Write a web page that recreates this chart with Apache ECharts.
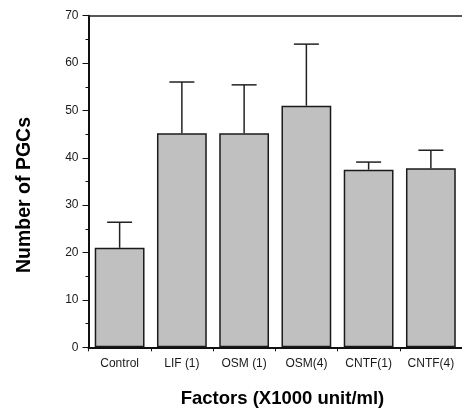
<!DOCTYPE html>
<html>
<head>
<meta charset="utf-8">
<script src="https://cdn.jsdelivr.net/npm/echarts@6/dist/echarts.min.js"></script>
<style>html,body{margin:0;padding:0;background:#fff;}#c{width:462px;height:412px;}</style>
</head>
<body>
<div id="c"></div>
<script>
var categories = ['Control', 'LIF (1)', 'OSM (1)', 'OSM(4)', 'CNTF(1)', 'CNTF(4)'];
var means = [21.0, 45.2, 45.2, 51.0, 37.5, 37.8];
var errorTops = [26.4, 56.0, 55.4, 64.0, 39.1, 41.6];
var yTicks = [0, 10, 20, 30, 40, 50, 60, 70];

var chart = echarts.init(document.getElementById('c'), null, {renderer: 'canvas'});
var font = 'Liberation Sans, Arial, Helvetica, sans-serif';

var errData = categories.map(function (c, i) { return [i, means[i], errorTops[i]]; });

chart.setOption({
  animation: false,
  backgroundColor: '#fff',
  grid: {left: 88.5, top: 15.7, width: 375, height: 331.6, containLabel: false},
  xAxis: [{
    type: 'category',
    data: categories,
    position: 'bottom',
    axisLine: {show: true, lineStyle: {color: '#111', width: 2}},
    axisTick: {show: true, inside: false, length: 4, alignWithLabel: false, lineStyle: {color: '#111', width: 1}},
    axisLabel: {color: '#1a1a1a', fontSize: 12, fontFamily: font, margin: 10, interval: 0},
    splitLine: {show: false}
  }, {
    type: 'category',
    data: categories,
    position: 'top',
    axisLine: {show: true, lineStyle: {color: '#222', width: 1.5}},
    axisTick: {show: false},
    axisLabel: {show: false}
  }],
  yAxis: {
    type: 'value',
    min: yTicks[0],
    max: yTicks[yTicks.length - 1],
    interval: 10,
    axisLine: {show: true, onZero: false, lineStyle: {color: '#111', width: 2}},
    axisTick: {show: true, inside: false, length: 6, lineStyle: {color: '#111', width: 1}},
    minorTick: {show: true, splitNumber: 2, length: 3, lineStyle: {color: '#111', width: 1}},
    axisLabel: {color: '#1a1a1a', fontSize: 12, fontFamily: font, margin: 10},
    splitLine: {show: false}
  },
  graphic: [{
    type: 'text',
    x: 25, y: 195,
    rotation: Math.PI / 2,
    style: {text: 'Number of PGCs', fontSize: 19.5, fontWeight: 'bold', fontFamily: font, fill: '#000', align: 'center', verticalAlign: 'middle'}
  }, {
    type: 'text',
    x: 282.5, y: 399,
    style: {text: 'Factors (X1000 unit/ml)', fontSize: 18.5, fontWeight: 'bold', fontFamily: font, fill: '#000', align: 'center', verticalAlign: 'middle'}
  }],
  series: [{
    type: 'bar',
    data: means,
    barWidth: '80%',
    itemStyle: {color: '#c0c0c0', borderColor: '#1a1a1a', borderWidth: 1.5},
    z: 2
  }, {
    type: 'custom',
    data: errData,
    z: 3,
    renderItem: function (params, api) {
      var i = api.value(0);
      var base = api.coord([i, api.value(1)]);
      var top = api.coord([i, api.value(2)]);
      var half = 12.5;
      var style = {stroke: '#222', lineWidth: 1.5};
      return {
        type: 'group',
        children: [
          {type: 'line', shape: {x1: base[0], y1: base[1], x2: top[0], y2: top[1]}, style: style},
          {type: 'line', shape: {x1: top[0] - half, y1: top[1], x2: top[0] + half, y2: top[1]}, style: style}
        ]
      };
    },
    encode: {x: 0, y: [1, 2]}
  }]
});
</script>
</body>
</html>
